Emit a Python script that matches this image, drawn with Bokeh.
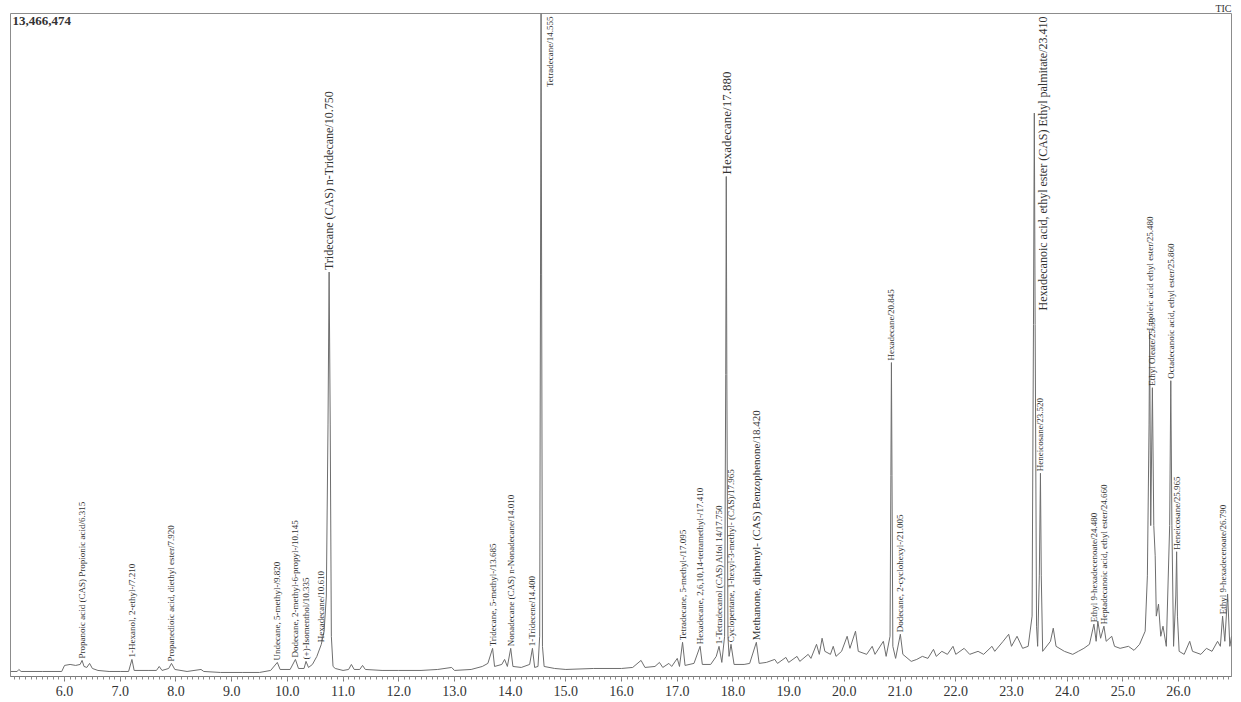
import numpy as np
from bokeh.plotting import figure
from bokeh.models import Range1d, FixedTicker, PrintfTickFormatter, Title, ColumnDataSource
from bokeh.core.properties import value
from bokeh.embed import file_html
from bokeh.resources import INLINE

# ---------------- data ----------------
FULL_SCALE = 13466474          # counts at the top of the frame
RT_MIN, RT_MAX = 5.03, 26.95    # retention time window (min)

trace_rt = [
    5.03, 5.15, 5.18, 5.22, 5.6, 5.95, 6.0, 6.1, 6.2, 6.28, 6.315, 6.35, 6.4, 6.45, 6.5, 6.6, 6.8,
    7.0, 7.15, 7.21, 7.25, 7.5, 7.65, 7.7, 7.75, 7.87, 7.92, 7.98, 8.2, 8.45, 8.5, 8.8, 9.2, 9.5,
    9.7, 9.82, 9.87, 10.05, 10.145, 10.2, 10.3, 10.335, 10.38, 10.45, 10.53, 10.61, 10.66, 10.7,
    10.73, 10.75, 10.77, 10.79, 10.82, 10.86, 11.0, 11.1, 11.15, 11.2, 11.3, 11.35, 11.4, 11.7,
    12.0, 12.4, 12.7, 12.95, 13.0, 13.3, 13.5, 13.6, 13.685, 13.72, 13.85, 13.9, 13.95, 14.01,
    14.05, 14.2, 14.35, 14.4, 14.44, 14.5, 14.53, 14.545, 14.555, 14.565, 14.58, 14.61, 14.8,
    15.0, 15.5, 16.0, 16.2, 16.35, 16.42, 16.6, 16.68, 16.74, 16.85, 16.9, 17.0, 17.04, 17.095,
    17.14, 17.3, 17.41, 17.45, 17.6, 17.7, 17.75, 17.8, 17.85, 17.87, 17.88, 17.89, 17.91, 17.93,
    17.965, 18.02, 18.2, 18.3, 18.42, 18.47, 18.6, 18.75, 18.8, 18.95, 19.0, 19.15, 19.2, 19.35,
    19.4, 19.5, 19.55, 19.6, 19.65, 19.75, 19.8, 19.85, 19.95, 20.05, 20.1, 20.2, 20.25, 20.4,
    20.5, 20.55, 20.7, 20.75, 20.82, 20.835, 20.845, 20.855, 20.87, 20.92, 21.005, 21.05, 21.2,
    21.3, 21.4, 21.5, 21.6, 21.65, 21.75, 21.85, 21.95, 22.0, 22.15, 22.25, 22.4, 22.5, 22.65,
    22.7, 22.85, 22.95, 23.0, 23.1, 23.2, 23.3, 23.37, 23.395, 23.41, 23.425, 23.45, 23.47, 23.5,
    23.52, 23.535, 23.56, 23.7, 23.75, 23.8, 23.95, 24.1, 24.2, 24.3, 24.4, 24.48, 24.52, 24.55,
    24.6, 24.66, 24.7, 24.8, 24.85, 24.95, 25.1, 25.2, 25.3, 25.4, 25.44, 25.47, 25.48, 25.5,
    25.53, 25.555, 25.58, 25.6, 25.64, 25.68, 25.72, 25.78, 25.84, 25.86, 25.88, 25.91, 25.95,
    25.965, 25.98, 26.01, 26.1, 26.2, 26.25, 26.4, 26.5, 26.6, 26.7, 26.75, 26.79, 26.83, 26.88,
    26.92, 26.95,
]
trace_kcounts = [
    102, 102, 143, 102, 102, 102, 225, 245, 225, 245, 327, 204, 184, 266, 163, 123, 102,
    102, 102, 347, 123, 123, 123, 204, 123, 163, 266, 143, 102, 143, 102, 82, 82, 82,
    123, 286, 143, 143, 347, 163, 163, 307, 184, 245, 409, 654, 920, 1635,
    5109, 8215, 5109, 817, 204, 163, 123, 143, 245, 143, 143, 225, 143, 123,
    123, 123, 143, 184, 123, 143, 204, 266, 572, 204, 245, 347, 204, 572,
    204, 184, 245, 572, 184, 204, 817, 8174, 13466, 8174, 613, 204, 163,
    143, 163, 163, 184, 327, 184, 204, 286, 184, 266, 204, 368, 204, 695,
    225, 266, 613, 245, 245, 409, 613, 286, 817, 6131, 10156, 6131, 817, 409,
    654, 245, 245, 266, 695, 266, 286, 347, 266, 388, 286, 409, 307, 450,
    368, 654, 450, 777, 511, 450, 613, 409, 511, 817, 572, 920, 511, 450,
    613, 450, 715, 409, 817, 4087, 6376, 4087, 613, 368, 858, 450, 307,
    347, 409, 368, 552, 409, 511, 450, 613, 450, 572, 450, 511, 450, 613,
    511, 715, 858, 613, 817, 572, 613, 1226, 7152, 11444, 7152, 1022, 613, 2044,
    4128, 2044, 511, 715, 981, 613, 511, 450, 511, 572, 654, 1063, 715, 1124,
    777, 1022, 715, 817, 613, 572, 613, 531, 654, 920, 2044, 5109, 6989, 3065,
    5865, 3065, 2452, 1226, 1471, 817, 1022, 613, 3065, 6008, 3065, 613, 1635,
    2534, 1226, 511, 450, 715, 511, 450, 572, 511, 715, 613, 1226, 715, 1676,
    613, 817,
]

label_rt = [6.315, 7.21, 7.92, 9.82, 10.145, 10.335, 10.61, 10.75, 13.685, 14.01, 14.4, 14.555,
            17.095, 17.41, 17.75, 17.88, 17.965, 18.42, 20.845, 21.005, 23.41, 23.52, 24.48,
            24.66, 25.48, 25.53, 25.86, 25.965, 26.79]
label_text = [
    "Propanoic acid (CAS) Propionic acid/6.315",
    "1-Hexanol, 2-ethyl-/7.210",
    "Propanedioic acid, diethyl ester/7.920",
    "Undecane, 5-methyl-/9.820",
    "Dodecane, 2-methyl-6-propyl-/10.145",
    "(+)-Isomenthol/10.335",
    "Hexadecane/10.610",
    "Tridecane (CAS) n-Tridecane/10.750",
    "Tridecane, 5-methyl-/13.685",
    "Nonadecane (CAS) n-Nonadecane/14.010",
    "1-Tridecene/14.400",
    "Tetradecane/14.555",
    "Tetradecane, 5-methyl-/17.095",
    "Hexadecane, 2,6,10,14-tetramethyl-/17.410",
    "1-Tetradecanol (CAS) Alfol 14/17.750",
    "Hexadecane/17.880",
    "Cyclopentane, 1-hexyl-3-methyl- (CAS)/17.965",
    "Methanone, diphenyl- (CAS) Benzophenone/18.420",
    "Hexadecane/20.845",
    "Dodecane, 2-cyclohexyl-/21.005",
    "Hexadecanoic acid, ethyl ester (CAS) Ethyl palmitate/23.410",
    "Heneicosane/23.520",
    "Ethyl 9-hexadecenoate/24.480",
    "Heptadecanoic acid, ethyl ester/24.660",
    "Linoleic acid ethyl ester/25.480",
    "Ethyl Oleate/25.53",
    "Octadecanoic acid, ethyl ester/25.860",
    "Heneicosane/25.965",
    "Ethyl 9-hexadecenoate/26.790",
]

tick_values = [6.0, 7.0, 8.0, 9.0, 10.0, 11.0, 12.0, 13.0, 14.0, 15.0, 16.0, 17.0, 18.0,
               19.0, 20.0, 21.0, 22.0, 23.0, 24.0, 25.0, 26.0]

# ---------------- styling ----------------
SERIF = "Liberation Serif"
LINE_GRAY = "#6e6e6e"
TEXT_GRAY = "#333333"
LABEL_SIZE = "9px"
# labels that the instrument software printed stretched
LABEL_SIZE_OVERRIDE = {10.75: "12px", 17.88: "13px", 23.41: "12px", 18.42: "11px"}

trace_counts = [k * 1000 for k in trace_kcounts]
apex = dict(zip(trace_rt, trace_counts))

p = figure(width=1240, height=698, output_backend="svg", toolbar_location=None,
           x_range=Range1d(RT_MIN, RT_MAX), y_range=Range1d(0, FULL_SCALE),
           min_border_left=10, min_border_right=9, min_border_top=13, min_border_bottom=0)
p.background_fill_color = "white"
p.border_fill_color = "white"
p.outline_line_color = "#8c8c8c"
p.outline_line_width = 1
p.xgrid.visible = False
p.ygrid.visible = False
p.yaxis.visible = False

ax = p.xaxis[0]
ax.ticker = FixedTicker(ticks=tick_values, minor_ticks=list(np.round(np.arange(5.1, 27.0, 0.1), 1)))
ax.formatter = PrintfTickFormatter(format="%.1f")
ax.axis_line_color = "#7a7a7a"
ax.major_tick_line_color = "#7a7a7a"
ax.minor_tick_line_color = "#8a8a8a"
ax.major_tick_in = 0
ax.major_tick_out = 5
ax.minor_tick_in = 0
ax.minor_tick_out = 3
ax.major_label_standoff = 4
ax.major_label_text_font = SERIF
ax.major_label_text_font_size = "14px"
ax.major_label_text_color = TEXT_GRAY

# chromatogram trace
p.line(trace_rt, trace_counts, line_color=LINE_GRAY, line_width=1)

# peak labels: above the apex, or beside the peak when the apex is near full scale
norm = dict(x=[], y=[], t=[], fs=[])
high = dict(x=[], y=[], t=[], fs=[])
for rt, txt in zip(label_rt, label_text):
    h = apex[rt]
    fs = LABEL_SIZE_OVERRIDE.get(rt, LABEL_SIZE)
    if h > 0.8 * FULL_SCALE:
        high["x"].append(rt); high["y"].append(FULL_SCALE); high["t"].append(txt); high["fs"].append(fs)
    else:
        norm["x"].append(rt); norm["y"].append(h); norm["t"].append(txt); norm["fs"].append(fs)

p.text(x="x", y="y", text="t", source=ColumnDataSource(norm), angle=np.pi / 2,
       text_align="left", text_baseline="middle", y_offset=-2,
       text_font=value(SERIF), text_font_size="fs", text_color=TEXT_GRAY)
p.text(x="x", y="y", text="t", source=ColumnDataSource(high), angle=np.pi / 2,
       text_align="right", text_baseline="middle", x_offset=9, y_offset=3,
       text_font=value(SERIF), text_font_size="fs", text_color=TEXT_GRAY)

# full-scale value and TIC marker
p.text(x=[RT_MIN], y=[FULL_SCALE], text=[f"{FULL_SCALE:,}"], x_offset=2, y_offset=3,
       text_align="left", text_baseline="top", text_font=value(SERIF),
       text_font_size="13px", text_font_style="bold", text_color=TEXT_GRAY)
p.add_layout(Title(text="TIC", align="right", text_font=SERIF, text_font_size="10px",
                   text_font_style="normal", text_color=TEXT_GRAY, standoff=0, offset=0), "above")

open("out.html", "w").write(file_html(p, INLINE))
